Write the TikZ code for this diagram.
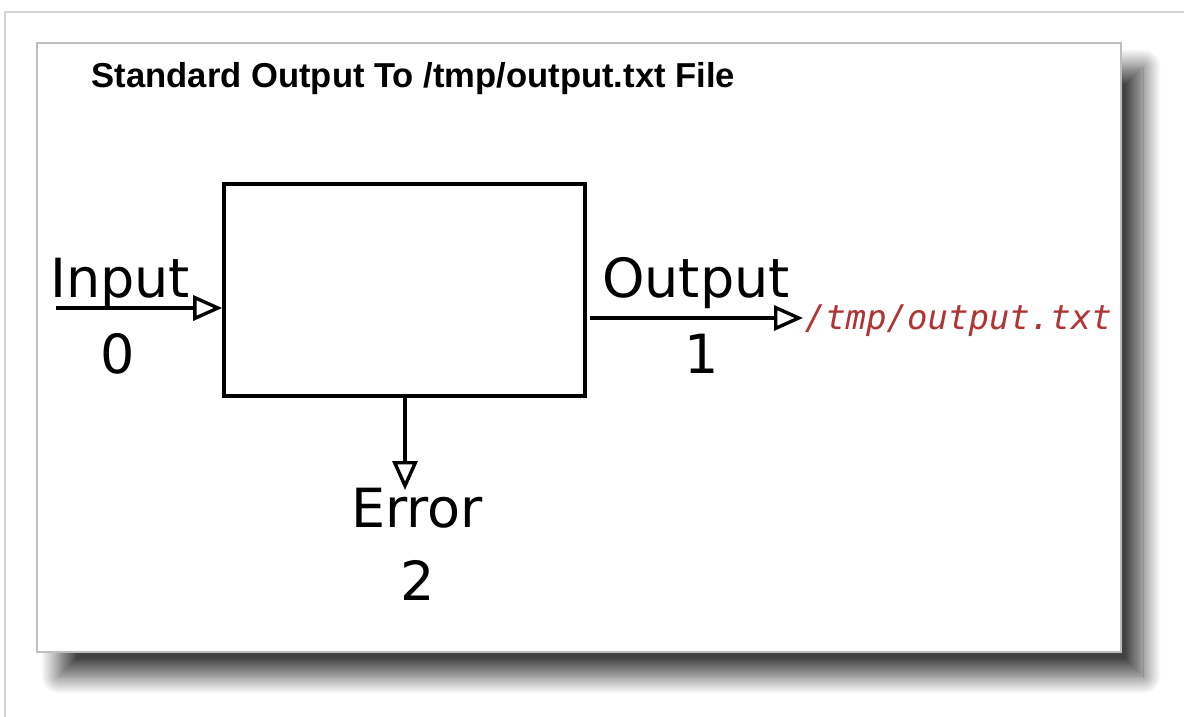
\documentclass[tikz,border=0pt]{standalone}
\usepackage{fontspec}
\setmainfont{DejaVu Sans}
\setmonofont{DejaVu Sans Mono}
\newfontfamily\titlefont{Liberation Sans}
\usetikzlibrary{arrows.meta, shadows.blur, positioning}
\definecolor{fileRed}{HTML}{B03434}
\definecolor{frameGrey}{HTML}{BDBDBD}
\definecolor{pageGrey}{HTML}{D4D4D4}
\tikzset{
  every picture/.append style = {line width=3.6pt, >={Triangle[open, length=29pt, width=25pt, line width=3.4pt]}},
  stream/.style   = {->, line width=3.6pt, black},
  lbl/.style      = {font=\fontsize{54}{60}\selectfont, inner sep=0pt, anchor=base},
  panel/.style    = {draw=frameGrey, line width=1.5pt, fill=white,
                     blur shadow={shadow xshift=22pt, shadow yshift=-24pt,
                                  shadow blur radius=18pt, shadow blur steps=24,
                                  shadow opacity=74}},
}

\begin{document}
\begin{tikzpicture}[x=1pt,y=-1pt,
    procbox/.style={draw=black, line width=3.6pt, minimum width=361pt,
                    minimum height=212pt, inner sep=0},
    filelbl/.style={font=\fontsize{34}{40}\selectfont\ttfamily\itshape, fileRed,
                    inner sep=0pt, anchor=base west}]
  \useasboundingbox (0,0) rectangle (1184,717);
  % --- page edge and shadowed panel ---------------------------------------
  \draw[pageGrey, line width=1.5pt] (1184,12) -- (5,12) -- (5,717);
  \path[panel] (37,43) rectangle (1121,652);
  \node[font=\titlefont\bfseries\fontsize{34.6}{38}\selectfont, inner sep=0pt,
        anchor=base west] (title) at (90,88) {Standard Output To /tmp/output.txt File};
  % --- the process and its three streams ----------------------------------
  \node[procbox] (proc) at (404.5,290) {};
  \coordinate (inStart) at (56,308);
  \coordinate (outStart) at (590,318);
  \coordinate (errTip) at (405,490);
  \node[filelbl] (file) at (803,329) {/tmp/output.txt};
  \draw[stream] (inStart) -- (inStart -| proc.west);
  \draw[stream] (outStart) -- (file.west |- outStart);
  \draw[stream] (proc.south -| errTip) -- (errTip);
  % --- labels --------------------------------------------------------------
  \node[lbl] (inLbl)   at (120,297) {Input};
  \node[lbl] (inNum)   at (118,373) {0};
  \node[lbl] (outLbl)  at (696,297) {Output};
  \node[lbl] (outNum)  at (702,373) {1};
  \node[lbl] (errLbl)  at (417,527) {Error};
  \node[lbl] (errNum)  at (418,600) {2};
\end{tikzpicture}
\end{document}
